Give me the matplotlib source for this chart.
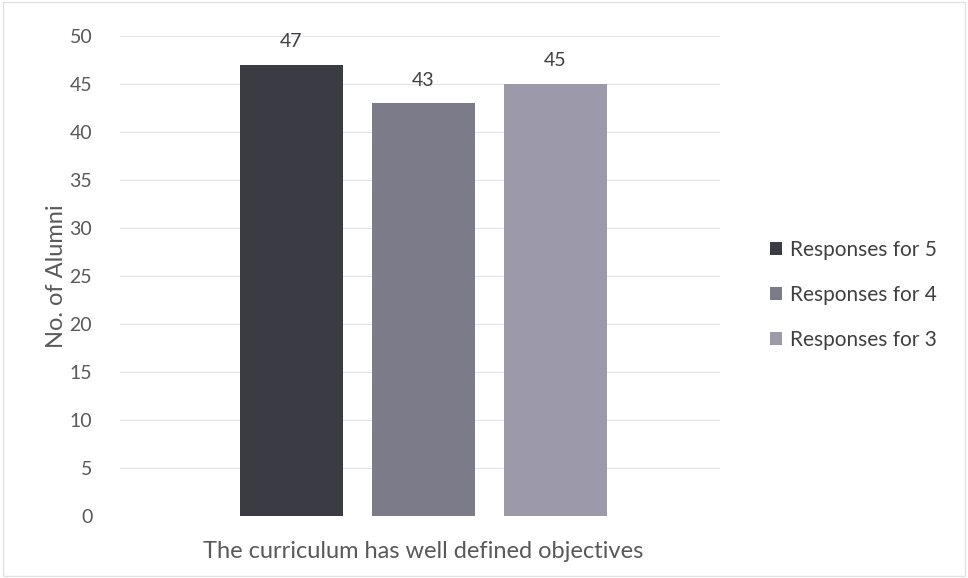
import matplotlib.pyplot as plt
import numpy as np

plt.rcParams['font.family'] = ['Lato', 'DejaVu Sans']

category = 'The curriculum has well defined objectives'
series = ['Responses for 5', 'Responses for 4', 'Responses for 3']
values = [47, 43, 45]
colors = ['#3b3b44', '#7b7b8a', '#9c99ab']

fig = plt.figure(figsize=(9.68, 5.78), dpi=100)
ax = fig.add_axes([0.124, 0.107, 0.62, 0.831])

pos = np.array([-1, 0, 1])
bars = ax.bar(pos, values, width=0.78, color=colors, label=series, zorder=3)
for b, v in zip(bars, values):
    ax.text(b.get_x() + b.get_width() / 2, v + 1.5, str(v), ha='center', va='bottom',
            fontsize=14, color='#404040')

ax.set_xlim(-2.3, 2.25)
ax.set_ylim(0, 50)
ax.set_yticks(range(0, 51, 5))
ax.set_xticks([0.0])
ax.set_xticklabels([category])
ax.tick_params(axis='both', length=0, labelsize=14, colors='#595959')
ax.tick_params(axis='x', pad=18, labelsize=17)
ax.tick_params(axis='y', pad=20)
ax.set_ylabel('No. of Alumni', fontsize=17, color='#595959', labelpad=2)
ax.grid(axis='y', color='#dfe3ee', linewidth=0.8, zorder=0)
for s in ax.spines.values():
    s.set_visible(False)

fig.legend(handles=bars, labels=series, loc='center left', bbox_to_anchor=(0.776, 0.49),
           frameon=False, fontsize=15, handlelength=0.6, handleheight=0.6,
           handletextpad=0.35, labelspacing=1.2, labelcolor='#404040')

fig.patches.append(plt.Rectangle((0.003, 0.003), 0.994, 0.994, transform=fig.transFigure,
                                 fill=False, edgecolor='#e2e2e2', linewidth=1))

fig.savefig('out.png', dpi=100)
